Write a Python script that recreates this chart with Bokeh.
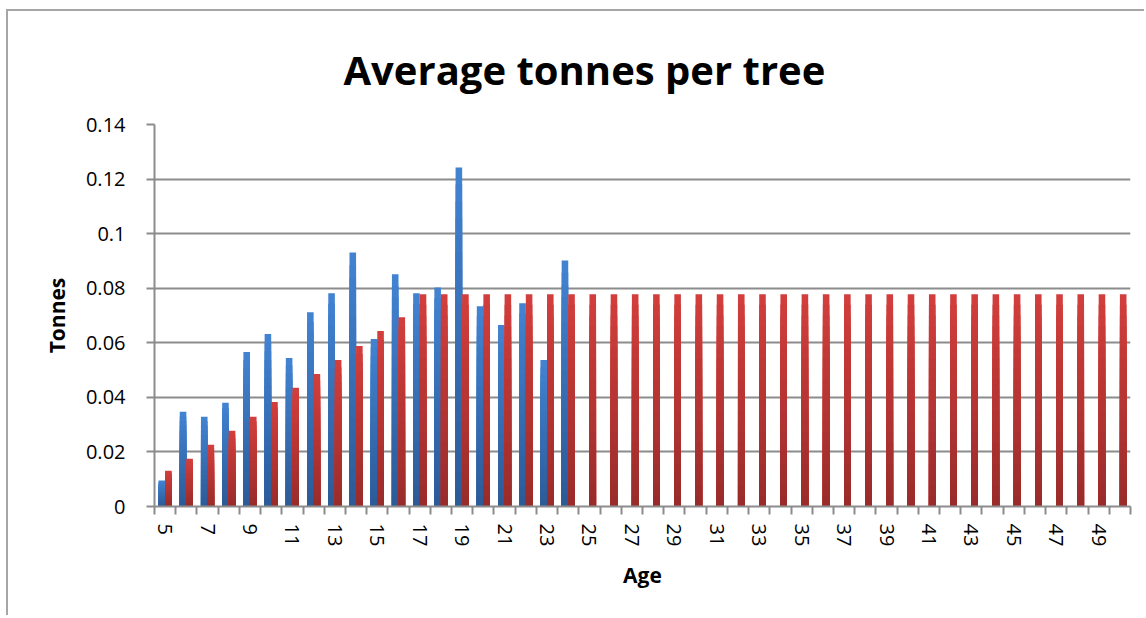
from bokeh.plotting import figure
from bokeh.models import Range1d, FixedTicker, CustomJSTickFormatter, ColumnDataSource
from bokeh.transform import dodge
from bokeh.embed import file_html
from bokeh.resources import INLINE

# ---- data ----
ages = list(range(5, 51))
blue_ages = list(range(5, 25))
blue_vals = [0.0095, 0.0347, 0.0329, 0.0380, 0.0566, 0.0632, 0.0544, 0.0712, 0.0782, 0.0931,
             0.0614, 0.0851, 0.0782, 0.0803, 0.1242, 0.0734, 0.0665, 0.0745, 0.0537, 0.0902]
red_vals = [0.0131, 0.0175, 0.0226, 0.0278, 0.0329, 0.0383, 0.0435, 0.0486, 0.0537, 0.0588,
            0.0643, 0.0694] + [0.0778] * 34
x_tick_labels = list(range(5, 50, 2))
y_ticks = [0, 0.02, 0.04, 0.06, 0.08, 0.1, 0.12, 0.14]

title_text = "Average tonnes per tree"
x_title = "Age"
y_title = "Tonnes"

FONT = "Open Sans"

p = figure(width=1138, height=606, output_backend="svg", toolbar_location=None,
           x_range=Range1d(4.5, 50.5), y_range=Range1d(0, 0.14),
           min_border_left=146, min_border_right=16, min_border_top=112, min_border_bottom=111)
p.styles = {"margin-left": "6px", "margin-top": "9px",
            "border-top": "2px solid #a6a6a6", "border-left": "2px solid #a6a6a6"}
p.background_fill_color = "white"
p.border_fill_color = "white"
p.outline_line_color = None

# title
p.title.text = title_text
p.title.text_font = FONT
p.title.text_font_size = "40px"
p.title.text_font_style = "bold"
p.title.text_color = "black"
p.title.align = "left"
p.title.offset = 189
p.title.standoff = 56


def lerp(c1, c2, t):
    a = [int(c1[i:i + 2], 16) for i in (1, 3, 5)]
    b = [int(c2[i:i + 2], 16) for i in (1, 3, 5)]
    return "#%02x%02x%02x" % tuple(round(a[j] + (b[j] - a[j]) * t) for j in range(3))


def gradient_bars(xs, vals, offset, bottom_col, top_col, n=20):
    for k in range(n, 0, -1):
        frac = k / n
        col = lerp(bottom_col, top_col, (k - 0.5) / n)
        src = ColumnDataSource(dict(x=xs, top=[v * frac for v in vals]))
        p.vbar(x=dodge("x", offset, range=p.x_range), top="top", bottom=0, width=0.31,
               source=src, fill_color=col, line_color=None)


gradient_bars(blue_ages, blue_vals, -0.155, "#2c5a96", "#4283d3")
gradient_bars(ages, red_vals, 0.155, "#982c2a", "#d33e3c")

# grid
p.xgrid.visible = False
p.ygrid.ticker = FixedTicker(ticks=y_ticks)
p.ygrid.grid_line_color = "#8c8c8c"
p.ygrid.grid_line_width = 2

# x axis
xa = p.xaxis[0]
xa.ticker = FixedTicker(ticks=x_tick_labels, minor_ticks=[4.5 + i for i in range(47)])
xa.major_tick_out = 0
xa.major_tick_in = 0
xa.minor_tick_out = 8
xa.minor_tick_in = 0
xa.minor_tick_line_color = "#8c8c8c"
xa.minor_tick_line_width = 2
xa.axis_line_color = "#8c8c8c"
xa.axis_line_width = 2
xa.major_label_orientation = "vertical"
xa.major_label_text_font = FONT
xa.major_label_text_font_size = "20px"
xa.major_label_text_color = "black"
xa.major_label_standoff = 9
xa.axis_label = x_title
xa.axis_label_text_font = FONT
xa.axis_label_text_font_size = "21px"
xa.axis_label_text_font_style = "bold"
xa.axis_label_text_color = "black"
xa.axis_label_standoff = 12

# y axis
ya = p.yaxis[0]
ya.ticker = FixedTicker(ticks=y_ticks)
ya.formatter = CustomJSTickFormatter(code="return tick.toString();")
ya.major_tick_out = 8
ya.major_tick_in = 0
ya.minor_tick_out = 0
ya.minor_tick_in = 0
ya.major_tick_line_color = "#8c8c8c"
ya.major_tick_line_width = 2
ya.axis_line_color = "#8c8c8c"
ya.axis_line_width = 2
ya.major_label_text_font = FONT
ya.major_label_text_font_size = "20px"
ya.major_label_text_color = "black"
ya.major_label_standoff = 21
ya.axis_label = y_title
ya.axis_label_text_font = FONT
ya.axis_label_text_font_size = "21px"
ya.axis_label_text_font_style = "bold"
ya.axis_label_text_color = "black"
ya.axis_label_standoff = 12

open("out.html", "w").write(file_html(p, INLINE))
